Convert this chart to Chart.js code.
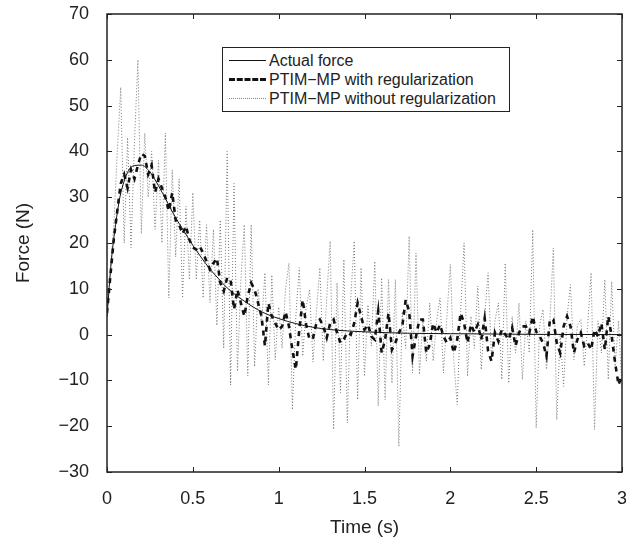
<!DOCTYPE html>
<html>
<head>
<meta charset="utf-8">
<script src="https://cdn.jsdelivr.net/npm/chart.js@4.4.0/dist/chart.umd.min.js"></script>
<style>
  body { margin: 0; background: #fff; }
  #wrap { position: relative; width: 626px; height: 547px; }
  #legend {
    position: absolute; left: 222px; top: 47px; width: 286px; height: 60px;
    border: 1px solid #222; background: #fff;
    font-family: "Liberation Sans", Arial, sans-serif; font-size: 16px; color: #222;
    padding-top: 3px; box-sizing: content-box;
  }
  #legend .row { height: 19px; display: flex; align-items: center; white-space: nowrap; }
  #legend .swatch { width: 37px; margin-left: 6px; margin-right: 3px; height: 0; }
</style>
</head>
<body>
<div id="wrap">
  <canvas id="chart" width="626" height="547"></canvas>
  <div id="legend"></div>
</div>
<script>
const seriesLabels = ['Actual force', 'PTIM\u2212MP with regularization', 'PTIM\u2212MP without regularization'];

// actual force, smooth curve
const actualTime = [0, 0.025, 0.05, 0.075, 0.1, 0.125, 0.15, 0.2, 0.25, 0.3, 0.35, 0.4, 0.45, 0.5,
  0.55, 0.6, 0.65, 0.7, 0.8, 0.9, 1.0, 1.1, 1.2, 1.3, 1.4, 1.5, 1.75, 2, 2.5, 3];
const actualForce = [4, 16, 24, 30, 33.5, 35.8, 36.8, 37, 35.5, 32.5, 29, 25.5, 22.5, 19.5,
  16.8, 14.3, 12.2, 10.2, 7.3, 5.0, 3.5, 2.4, 1.6, 1.1, 0.8, 0.6, 0.3, 0.2, 0.05, 0];

// sampled every 0.02 s
const sampleStep = 0.02;
const withReg = [
  4.7, 13, 21, 27, 33, 35, 32, 36, 34, 37, 39.5, 39, 35, 37, 31, 34, 32, 30, 27, 31,
  25, 24, 22, 23.7, 20.7, 19, 18.6, 19.3, 17.8, 16, 14.2, 15.6, 16.7, 11.3, 9.5, 12.4, 12, 5.5, 9.8, 6.9,
  4, 8.4, 11.3, 9.8, 6.9, 4, -2.5, 6.9, 4, 2.5, 1, 1.8, 5, 1.8, -3.3, -7.6, 1, 7.6, 2.2, -1.1,
  -0.7, 2.5, 3.3, 1.8, -0.7, 2.5, 3.3, 0.4, -1.8, -1, 0.5, 0, 2.5, 6.9, 4, 1.1, 2.2, -0.4, -1.1, 5.1,
  -4, -1.1, 4.7, -3.3, -1.8, 0.4, 1.8, 7.6, 5.1, -4.7, -0.4, 3.3, 3.3, -4, -2.2, 2.5, 0.4, 2.2, -0.4, -1.8,
  -0.7, -4, -1.1, 4.7, 2.5, -1.8, 2.2, 0.5, 2.2, -1.1, 3.6, -3.6, -5.8, 0.4, -1.5, 1.1, 0, -1.1, 1.5, -2.5,
  0.4, 1.8, 1.8, 0.4, 4, 0.7, -0.4, -1.8, -4.7, 3.3, 3.3, -1.8, -4, 1.8, 4, 1.8, -4, -1.1, 0.4, -2.5,
  -1.8, -3.3, 1.1, -0.4, 2.5, -3.3, 4, -0.4, -6.2, -11, -8.7
];
const withoutReg = [
  4, 14, 24, 40, 54, 20, 43, 19, 42, 60, 22, 44, 30, 40, 23, 38, 20, 44, 8, 36,
  17, 34, 8, 28, 12, 31, 12, 25, 8, 24, 7, 23, 2, 25, -3, 40, -11, 33, -8, 12,
  24, -9, 24, -7, 10, 2, 13.5, -11, 13, -5.5, 6, -3, 10, 15.6, -16.4, 4, 14.6, -4.7, 6, 9.8,
  -6, 5, 14.6, -5.8, 8, 20.4, -20.7, 11.3, -12.7, 16.4, -19.3, 8, 20.4, -14.2, 14.6, -9.1, 6.5, -2.5, 16, -15.6,
  12.4, -14.2, 12, -10.6, 12, -24.4, 5, -3, 21.5, -8.4, 17.8, -8.7, 3.3, -5.8, 6.9, -5.8, 3, 8, -8.4, 4,
  15.3, -5.5, -15.3, 5, 20, -9.1, 4, -3, 10.6, -7.6, 4, 13.5, -5.5, 3, 6.9, -9.8, 15.6, -10.6, 4, -4,
  6.9, -9.8, 3, -4, 22.9, -20.4, 2, 5.5, -7.6, 3, 18.9, -18.6, 0, -11.3, 4, 10.9, -5.5, 2, 3.3, -6.9,
  2, 13.5, -20.7, 3, -4, 12, -9.8, 11.6, -6.9, 3, -12
];

const xTicks = [0, 0.5, 1, 1.5, 2, 2.5, 3];
const yTicks = [-30, -20, -10, 0, 10, 20, 30, 40, 50, 60, 70];

const FONT = '"Liberation Sans", Arial, sans-serif';
const INK = '#222';

function toPoints(times, values) {
  return values.map((v, i) => ({ x: times[i], y: v }));
}
function sampled(values) {
  return values.map((v, i) => ({ x: +(i * sampleStep).toFixed(2), y: v }));
}

const styles = [
  { borderColor: '#111', borderWidth: 1, borderDash: [], css: '1px solid #111' },
  { borderColor: '#111', borderWidth: 2.6, borderDash: [5, 5], css: '3px dashed #111' },
  { borderColor: '#777', borderWidth: 1, borderDash: [1, 2], css: '1px dotted #888' },
];

// inward ticks + full box, like the original figure
const frame = {
  id: 'frame',
  afterDraw(chart) {
    const { ctx, chartArea: a, scales } = chart;
    const len = 5;
    ctx.save();
    ctx.strokeStyle = INK;
    ctx.lineWidth = 1;
    ctx.beginPath();
    xTicks.forEach(t => {
      const px = Math.round(scales.x.getPixelForValue(t)) + 0.5;
      ctx.moveTo(px, a.bottom); ctx.lineTo(px, a.bottom - len);
      ctx.moveTo(px, a.top); ctx.lineTo(px, a.top + len);
    });
    yTicks.forEach(t => {
      const py = Math.round(scales.y.getPixelForValue(t)) + 0.5;
      ctx.moveTo(a.left, py); ctx.lineTo(a.left + len, py);
      ctx.moveTo(a.right, py); ctx.lineTo(a.right - len, py);
    });
    ctx.stroke();
    ctx.lineWidth = 1.5;
    ctx.strokeRect(a.left, a.top, a.right - a.left, a.bottom - a.top);
    ctx.restore();
  }
};

const chart = new Chart(document.getElementById('chart'), {
  type: 'line',
  data: {
    datasets: [
      Object.assign({ label: seriesLabels[0], data: toPoints(actualTime, actualForce), cubicInterpolationMode: 'monotone' }, styles[0]),
      Object.assign({ label: seriesLabels[1], data: sampled(withReg), tension: 0 }, styles[1]),
      Object.assign({ label: seriesLabels[2], data: sampled(withoutReg), tension: 0 }, styles[2]),
    ]
  },
  options: {
    responsive: false,
    animation: false,
    layout: { padding: { top: 14, right: 4, left: 0, bottom: 0 } },
    elements: { point: { radius: 0 } },
    plugins: { legend: { display: false }, tooltip: { enabled: false } },
    scales: {
      x: {
        type: 'linear', min: 0, max: 3,
        afterBuildTicks: s => { s.ticks = xTicks.map(v => ({ value: v })); },
        afterFit: s => { s.height = 75; s.paddingLeft = 0; s.paddingRight = 0; },
        grid: { display: false, drawTicks: false },
        border: { display: false },
        ticks: { color: INK, font: { family: FONT, size: 18 }, padding: 16, maxRotation: 0,
          callback: v => String(v) },
        title: { display: true, text: 'Time (s)', color: INK, font: { family: FONT, size: 19 }, padding: { top: 0, bottom: 8 } }
      },
      y: {
        min: -30, max: 70,
        afterBuildTicks: s => { s.ticks = yTicks.map(v => ({ value: v })); },
        afterFit: s => { s.width = 107; s.paddingTop = 0; s.paddingBottom = 0; },
        grid: { display: false, drawTicks: false },
        border: { display: false },
        ticks: { color: INK, font: { family: FONT, size: 18 }, padding: 18,
          callback: v => String(v).replace('-', '\u2212') },
        title: { display: true, text: 'Force (N)', color: INK, font: { family: FONT, size: 19 }, padding: { top: 12, bottom: 0 } }
      }
    }
  },
  plugins: [frame]
});

// legend box inside the plot
const legend = document.getElementById('legend');
chart.data.datasets.forEach((ds, i) => {
  const row = document.createElement('div');
  row.className = 'row';
  const sw = document.createElement('span');
  sw.className = 'swatch';
  sw.style.borderTop = styles[i].css;
  const txt = document.createElement('span');
  txt.textContent = ds.label;
  row.appendChild(sw);
  row.appendChild(txt);
  legend.appendChild(row);
});
</script>
</body>
</html>
